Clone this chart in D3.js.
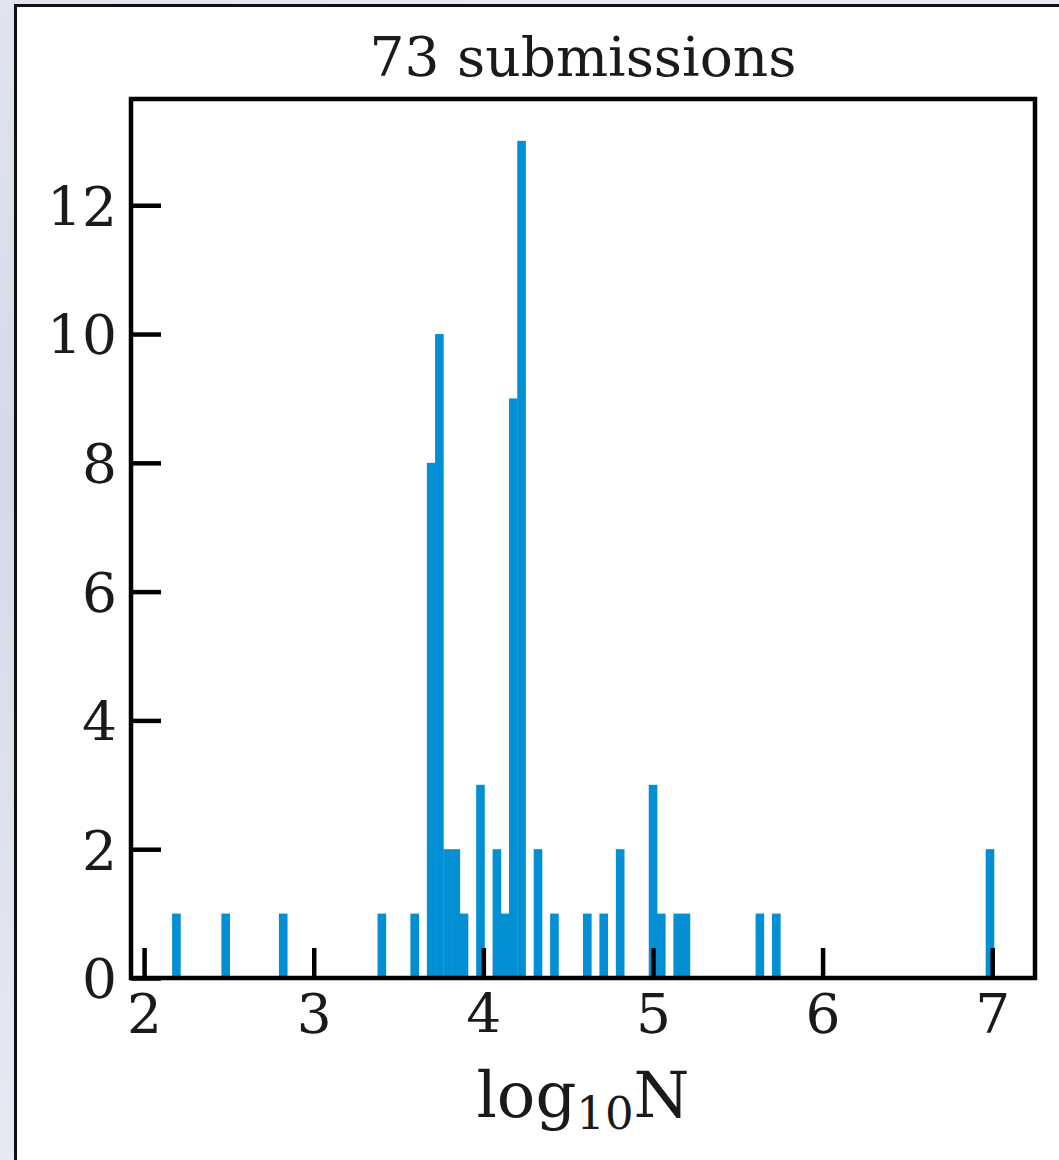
<!DOCTYPE html>
<html>
<head>
<meta charset="utf-8">
<script src="https://cdn.jsdelivr.net/npm/d3@7"></script>
<style>
  html, body { margin: 0; padding: 0; background: #e1e6f0; }
  svg { display: block; }
</style>
</head>
<body>
<svg id="chart" width="1059" height="1160"></svg>
<script>
// Histogram of log10 N over 73 submissions, 100 equal-width bins.
const title = "73 submissions";
const binStart = 2.165;
const binEnd = 7.01;
const binTotal = 100;
// counts per bin, bin 0 .. bin 99
const counts = [
  1,0,0,0,0,0,1,0,0,0,
  0,0,0,1,0,0,0,0,0,0,
  0,0,0,0,0,1,0,0,0,1,
  0,8,10,2,2,1,0,3,0,2,
  1,9,13,0,2,0,1,0,0,0,
  1,0,1,0,2,0,0,0,3,1,
  0,1,1,0,0,0,0,0,0,0,
  0,1,0,1,0,0,0,0,0,0,
  0,0,0,0,0,0,0,0,0,0,
  0,0,0,0,0,0,0,0,0,2
];
const xTicks = [2, 3, 4, 5, 6, 7];
const yTicks = [0, 2, 4, 6, 8, 10, 12];

const svg = d3.select("#chart");
const W = 1059, H = 1160;

// soft backdrop behind the white card
const defs = svg.append("defs");
const bg = defs.append("radialGradient").attr("id", "haze").attr("cx", "0%").attr("cy", "40%").attr("r", "60%");
bg.append("stop").attr("offset", "0%").attr("stop-color", "#d3dae8");
bg.append("stop").attr("offset", "100%").attr("stop-color", "#e6eaf3");
svg.append("rect").attr("width", W).attr("height", H).attr("fill", "url(#haze)");

// white card
svg.append("rect")
  .attr("x", 15.5).attr("y", 5.5)
  .attr("width", W + 20).attr("height", H + 20)
  .attr("fill", "#ffffff").attr("stroke", "#111").attr("stroke-width", 3);

const plot = { left: 131, right: 1035, top: 99, bottom: 978 };

const span = binEnd - binStart;
const maxCount = d3.max(counts);
const x = d3.scaleLinear()
  .domain([binStart - 0.05 * span, binEnd + 0.05 * span])
  .range([plot.left, plot.right]);
const y = d3.scaleLinear()
  .domain([0, maxCount * 1.05])
  .range([plot.bottom, plot.top]);

const bw = span / binTotal;
const bins = counts.map((c, i) => ({ x0: binStart + i * bw, x1: binStart + (i + 1) * bw, c }))
  .filter(d => d.c > 0);

svg.append("g").selectAll("rect").data(bins).join("rect")
  .attr("x", d => x(d.x0))
  .attr("width", d => x(d.x1) - x(d.x0) + 0.4)
  .attr("y", d => y(d.c))
  .attr("height", d => y(0) - y(d.c))
  .attr("fill", "#038fd4");

const font = "'DejaVu Serif', serif";

// inward ticks
const xAxis = d3.axisBottom(x).tickValues(xTicks).tickSizeInner(-30).tickSizeOuter(0).tickPadding(16).tickFormat(d3.format("d"));
const gx = svg.append("g").attr("transform", `translate(0,${plot.bottom})`).call(xAxis);
gx.select(".domain").remove();
gx.selectAll("line").attr("stroke", "#000").attr("stroke-width", 4.5);
gx.selectAll("text").attr("font-family", font).attr("font-size", 55).attr("fill", "#1a1a1a")
  .attr("dy", "0.71em");

const yAxis = d3.axisLeft(y).tickValues(yTicks).tickSizeInner(-30).tickSizeOuter(0).tickPadding(14).tickFormat(d3.format("d"));
const gy = svg.append("g").attr("transform", `translate(${plot.left},0)`).call(yAxis);
gy.select(".domain").remove();
gy.selectAll("line").attr("stroke", "#000").attr("stroke-width", 4.5);
gy.selectAll("text").attr("font-family", font).attr("font-size", 55).attr("fill", "#1a1a1a")
  .attr("dy", "0.36em");

// frame
svg.append("rect")
  .attr("x", plot.left).attr("y", plot.top)
  .attr("width", plot.right - plot.left).attr("height", plot.bottom - plot.top)
  .attr("fill", "none").attr("stroke", "#000").attr("stroke-width", 4.5);

// title
svg.append("text")
  .attr("x", (plot.left + plot.right) / 2).attr("y", 76)
  .attr("text-anchor", "middle")
  .attr("font-family", font).attr("font-size", 55).attr("fill", "#1a1a1a")
  .text(title);

// axis label: log10 N
const lab = svg.append("text")
  .attr("x", (plot.left + plot.right) / 2).attr("y", 1117)
  .attr("text-anchor", "middle")
  .attr("font-family", font).attr("font-size", 64).attr("fill", "#1a1a1a");
lab.append("tspan").text("log");
lab.append("tspan").attr("font-size", 45).attr("dy", 12).text("10");
lab.append("tspan").attr("dy", -12).text("N");
</script>
</body>
</html>
